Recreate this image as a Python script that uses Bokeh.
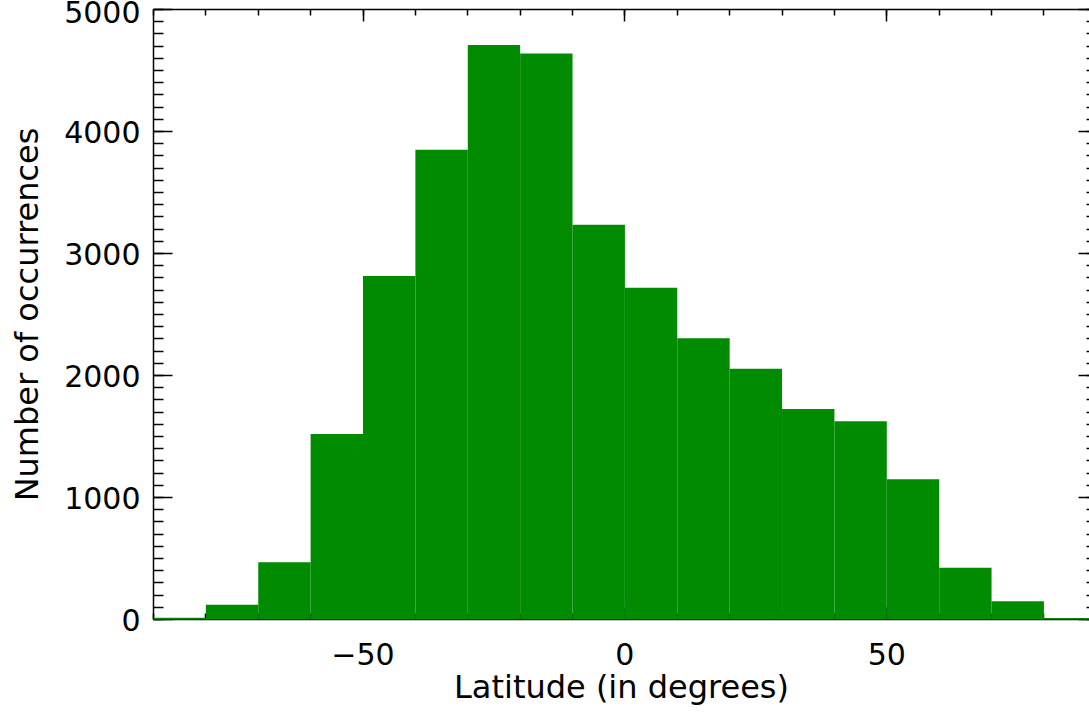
from bokeh.plotting import figure
from bokeh.models import LinearAxis, SingleIntervalTicker, Range1d, CustomJSTickFormatter
from bokeh.embed import file_html
from bokeh.resources import INLINE

# Histogram data: latitude bins (degrees) and counts
bin_edges = [-90, -80, -70, -60, -50, -40, -30, -20, -10, 0, 10, 20, 30, 40, 50, 60, 70, 80, 90]
counts = [15, 120, 470, 1520, 2815, 3850, 4710, 4640, 3235, 2720, 2305, 2055, 1725, 1625, 1150, 425, 150, 12]

x_title = "Latitude (in degrees)"
y_title = "Number of occurrences"

FONT = "DejaVu Sans"
GREEN = "#008b00"

p = figure(width=1089, height=708,
           x_range=Range1d(-90, 88.7), y_range=Range1d(0, 5000),
           output_backend="svg", toolbar_location=None,
           min_border_left=153, min_border_right=0,
           min_border_top=9, min_border_bottom=0)
p.xgrid.visible = False
p.ygrid.visible = False
p.outline_line_color = None
p.background_fill_color = "white"
p.border_fill_color = "white"

bars = p.quad(left=bin_edges[:-1], right=bin_edges[1:], bottom=0, top=counts,
              fill_color=GREEN, line_color=None)
bars.level = "overlay"


def style_common(ax, tick_in, minor_in):
    ax.axis_line_color = "black"
    ax.axis_line_width = 1.5
    ax.major_tick_line_color = "black"
    ax.minor_tick_line_color = "black"
    ax.major_tick_line_width = 1.5
    ax.minor_tick_line_width = 1.5
    ax.major_tick_in = tick_in
    ax.major_tick_out = 0
    ax.minor_tick_in = minor_in
    ax.minor_tick_out = 0


xticker = SingleIntervalTicker(interval=50, num_minor_ticks=5)
yticker = SingleIntervalTicker(interval=1000, num_minor_ticks=10)

# bottom axis
xa = p.xaxis[0]
xa.ticker = xticker
style_common(xa, 12, 6)
xa.axis_label = x_title
xa.axis_label_text_font = FONT
xa.axis_label_text_font_size = "32px"
xa.axis_label_text_font_style = "normal"
xa.axis_label_text_color = "black"
xa.axis_label_standoff = 0
xa.major_label_text_font = FONT
xa.major_label_text_font_size = "30px"
xa.major_label_text_color = "black"
xa.major_label_standoff = 23

# left axis
ya = p.yaxis[0]
ya.ticker = yticker
style_common(ya, 19, 10)
ya.axis_label = y_title
ya.axis_label_text_font = FONT
ya.axis_label_text_font_size = "32px"
ya.axis_label_text_font_style = "normal"
ya.axis_label_text_color = "black"
ya.axis_label_standoff = 15
ya.major_label_text_font = FONT
ya.major_label_text_font_size = "30px"
ya.major_label_text_color = "black"
ya.major_label_standoff = 13

# top axis (ticks only)
ta = LinearAxis(ticker=SingleIntervalTicker(interval=50, num_minor_ticks=5),
                formatter=CustomJSTickFormatter(code="return ''"))
style_common(ta, 12, 6)
ta.major_label_standoff = 0
ta.major_label_text_font_size = "1px"
p.add_layout(ta, "above")

# right axis (ticks only, axis line lies outside the visible area)
ra = LinearAxis(ticker=SingleIntervalTicker(interval=1000, num_minor_ticks=10),
                formatter=CustomJSTickFormatter(code="return ''"))
style_common(ra, 11, 3)
ra.axis_line_color = None
ra.major_label_standoff = 0
ra.major_label_text_font_size = "1px"
p.add_layout(ra, "right")

open("out.html", "w").write(file_html(p, INLINE))
